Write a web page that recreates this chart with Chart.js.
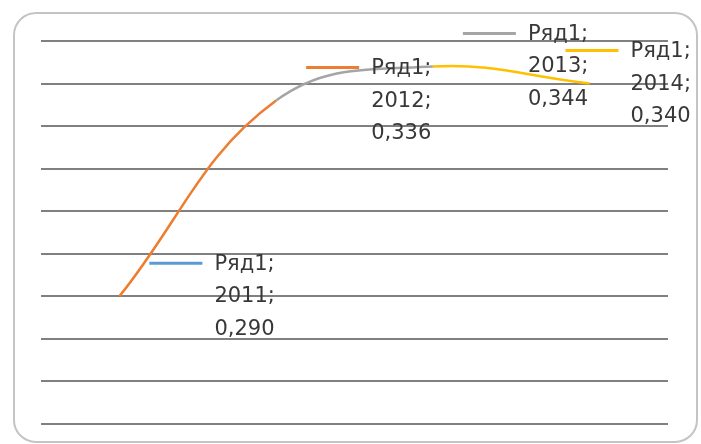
<!DOCTYPE html>
<html>
<head>
<meta charset="utf-8">
<script src="https://cdn.jsdelivr.net/npm/chart.js@4"></script>
<style>
  html, body { margin: 0; padding: 0; background: #fff; }
  #wrap { position: relative; width: 701px; height: 444px; }
</style>
</head>
<body>
<div id="wrap"><canvas id="lineChart" width="701" height="444"></canvas></div>
<script>
const seriesName = 'Ряд1';
const categories = ['2011', '2012', '2013', '2014'];
const values = [0.290, 0.336, 0.344, 0.340];
const yTicks = { min: 0.26, max: 0.35, step: 0.01 };

const colorPalette = ['#5B9BD5', '#ED7D31', '#A5A5A5', '#FFC000'];
const labelFont = '21px "DejaVu Sans"';

// rounded frame round the whole chart
const framePlugin = {
  id: 'frame',
  beforeDraw(chart) {
    const ctx = chart.ctx;
    ctx.save();
    ctx.strokeStyle = '#c4c4c4';
    ctx.lineWidth = 2;
    ctx.beginPath();
    ctx.roundRect(14, 13, 683, 429, 22);
    ctx.stroke();
    ctx.restore();
  }
};

// excel style data labels: legend key + "series; category; value"
const labelPlugin = {
  id: 'pointLabels',
  afterDatasetsDraw(chart) {
    const ctx = chart.ctx;
    const meta = chart.getDatasetMeta(0);
    ctx.save();
    ctx.font = labelFont;
    ctx.textBaseline = 'middle';
    ctx.textAlign = 'left';
    meta.data.forEach((pt, i) => {
      const lines = [
        seriesName + ';',
        categories[i] + ';',
        values[i].toFixed(3).replace('.', ',')
      ];
      const w = Math.max(...lines.map(t => ctx.measureText(t).width));
      const tx = Math.min(pt.x + 95, chart.width - 10 - w);
      const ty = pt.y - 32;

      ctx.strokeStyle = colorPalette[i % colorPalette.length];
      ctx.lineWidth = 3;
      ctx.beginPath();
      ctx.moveTo(tx - 65, ty - 1);
      ctx.lineTo(tx - 12, ty - 1);
      ctx.stroke();

      ctx.fillStyle = '#383838';
      lines.forEach((t, k) => ctx.fillText(t, tx, ty + k * 32.5));
    });
    ctx.restore();
  }
};

new Chart(document.getElementById('lineChart'), {
  type: 'line',
  data: {
    labels: categories,
    datasets: [{
      label: seriesName,
      data: values,
      borderWidth: 2.5,
      borderColor: colorPalette[1],
      tension: 0.4,
      pointRadius: 0,
      segment: {
        borderColor: c => colorPalette[c.p1DataIndex % colorPalette.length]
      }
    }]
  },
  options: {
    responsive: false,
    animation: false,
    layout: { padding: { left: 41, right: 33, top: 41, bottom: 20 } },
    plugins: {
      legend: { display: false },
      tooltip: { enabled: false }
    },
    scales: {
      x: { display: false, offset: true },
      y: {
        min: yTicks.min,
        max: yTicks.max,
        ticks: { display: false, stepSize: yTicks.step },
        border: { display: false },
        grid: { color: '#808080', lineWidth: 2, drawTicks: false }
      }
    }
  },
  plugins: [framePlugin, labelPlugin]
});
</script>
</body>
</html>
